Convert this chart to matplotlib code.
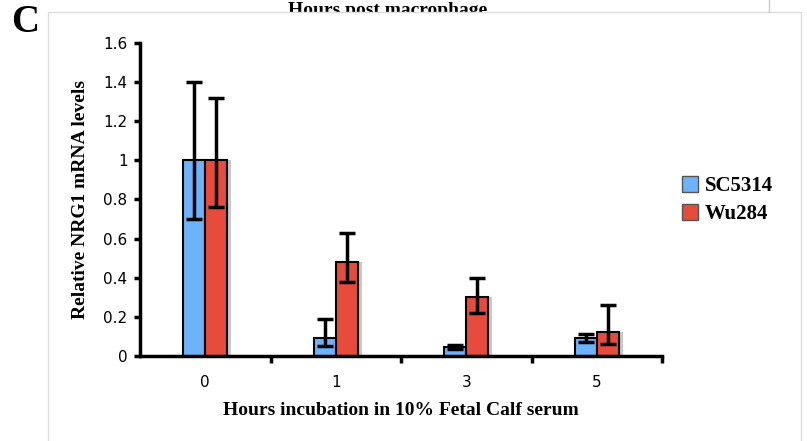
import numpy as np
import matplotlib.pyplot as plt
from matplotlib.lines import Line2D
from matplotlib.patches import Rectangle

hours = ["0", "1", "3", "5"]
sc5314 = [1.0, 0.09, 0.045, 0.09]
sc5314_lo = [0.70, 0.05, 0.035, 0.07]
sc5314_hi = [1.40, 0.19, 0.055, 0.11]
wu284 = [1.0, 0.48, 0.30, 0.125]
wu284_lo = [0.76, 0.38, 0.22, 0.06]
wu284_hi = [1.32, 0.63, 0.40, 0.26]

blue = "#6db3f9"
red = "#e64b3c"

fig = plt.figure(figsize=(8.07, 4.41), dpi=100)
ax = fig.add_axes([140/807, 1 - 356/441, 522/807, 313/441])
ax.set_zorder(3)

x = np.arange(len(hours))
w = 0.17

# soft shadow behind the bars
for xs, vals in [(x - w/2, sc5314), (x + w/2, wu284)]:
    ax.bar(xs + 0.03, vals, w, color="#c8c8c8", edgecolor="none", zorder=1)

ax.bar(x - w/2, sc5314, w, color=blue, edgecolor="black", linewidth=1.5, zorder=2)
ax.bar(x + w/2, wu284, w, color=red, edgecolor="black", linewidth=1.5, zorder=2)

err_b = [np.array(sc5314) - np.array(sc5314_lo), np.array(sc5314_hi) - np.array(sc5314)]
err_r = [np.array(wu284) - np.array(wu284_lo), np.array(wu284_hi) - np.array(wu284)]
ax.errorbar(x - w/2, sc5314, yerr=err_b, fmt="none", ecolor="black",
            elinewidth=2.5, capsize=6, capthick=2.5, zorder=3)
ax.errorbar(x + w/2, wu284, yerr=err_r, fmt="none", ecolor="black",
            elinewidth=2.5, capsize=6, capthick=2.5, zorder=3)

ax.set_xlim(-0.5, 3.5)
ax.set_ylim(0, 1.6)
ax.set_yticks(np.arange(0, 1.61, 0.2))
ax.set_yticklabels(["0", "0.2", "0.4", "0.6", "0.8", "1", "1.2", "1.4", "1.6"],
                   fontfamily="DejaVu Sans", fontsize=11)
ax.set_xticks(x)
ax.set_xticklabels(hours, fontfamily="DejaVu Sans", fontsize=11)
ax.tick_params(axis="x", length=0, pad=14)
ax.tick_params(axis="y", direction="out", length=4, width=2.5, pad=5)
ax.set_xticks([0.5, 1.5, 2.5, 3.5], minor=True)
ax.tick_params(axis="x", which="minor", direction="out", length=5, width=2.5)

for s in ["top", "right"]:
    ax.spines[s].set_visible(False)
for s in ["left", "bottom"]:
    ax.spines[s].set_linewidth(2.5)

ax.set_ylabel("Relative NRG1 mRNA levels", fontfamily="Liberation Serif",
              fontweight="bold", fontsize=14, labelpad=10)
ax.set_xlabel("Hours incubation in 10% Fetal Calf serum", fontfamily="Liberation Serif",
              fontweight="bold", fontsize=14, labelpad=8)

handles = [plt.Rectangle((0, 0), 1, 1, facecolor=blue, edgecolor="#555555"),
           plt.Rectangle((0, 0), 1, 1, facecolor=red, edgecolor="#555555")]
leg = fig.legend(handles, ["SC5314", "Wu284"], loc="center left",
                 bbox_to_anchor=(663/807, 1 - 200/441), frameon=False,
                 prop={"family": "Liberation Serif", "weight": "bold", "size": 15},
                 handlelength=0.8, handleheight=0.8, handletextpad=0.3, labelspacing=0.4)
leg.set_zorder(4)

# panel letter and page fragments around the figure
fig.text(11/807, 1 - 23/441, "C", fontfamily="Liberation Serif", fontweight="bold",
         fontsize=28, va="center", zorder=2)
fig.text(388/807, 1 - 15/441, "Hours post macrophage", fontfamily="Liberation Serif",
         fontweight="bold", fontsize=14, va="baseline", ha="center", zorder=0.5)
fig.add_artist(Rectangle((48/807, -0.01), (801 - 48)/807, 1.01 - 12/441, facecolor="white",
                         edgecolor="#dddddd", lw=1, zorder=1))
fig.add_artist(Line2D([769/807, 769/807], [1 - 12/441, 1], color="#cccccc", lw=1, zorder=1))

fig.savefig("out.png", dpi=100)
